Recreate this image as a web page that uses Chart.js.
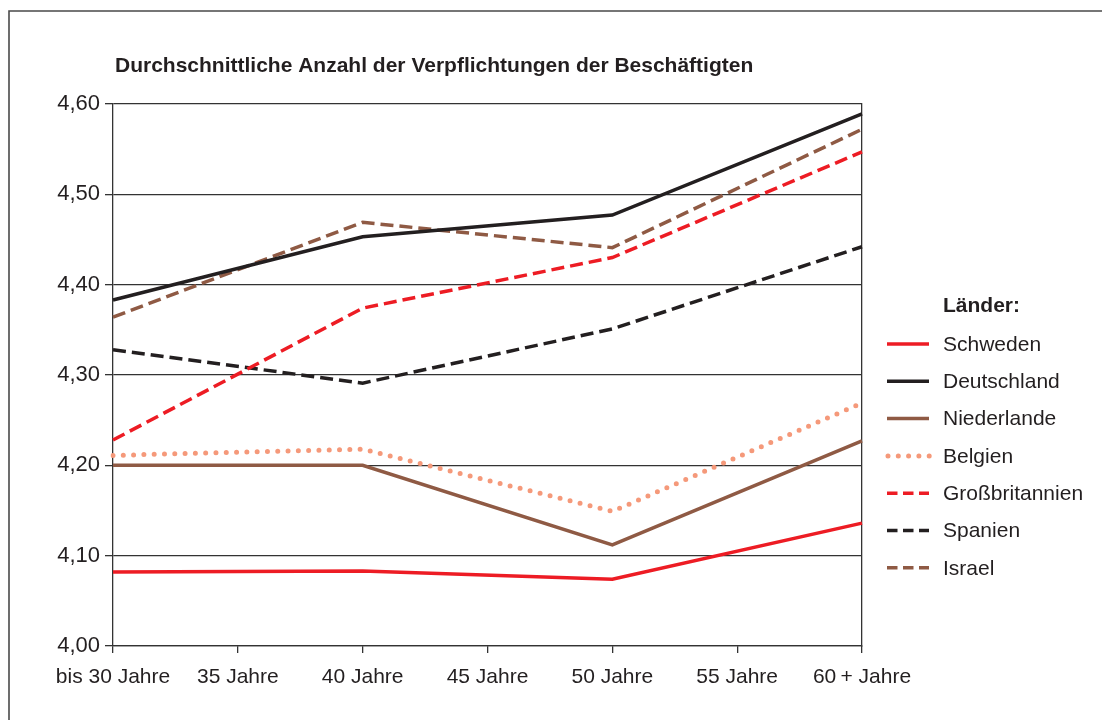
<!DOCTYPE html>
<html lang="de">
<head>
<meta charset="utf-8">
<script src="https://cdn.jsdelivr.net/npm/chart.js@4.4.1/dist/chart.umd.min.js"></script>
<style>
  html, body { margin: 0; padding: 0; background: #fff; }
  canvas { display: block; }
</style>
</head>
<body>
<canvas id="c" width="1102" height="720"></canvas>
<script>
// Texts
const chartTitle = 'Durchschnittliche Anzahl der Verpflichtungen der Beschäftigten';
const legendTitle = 'Länder:';

// Age groups on the x axis (values only at 30, 40, 50 and 60+)
const ageGroups = ['bis 30 Jahre', '35 Jahre', '40 Jahre', '45 Jahre', '50 Jahre', '55 Jahre', '60\u2009+ Jahre'];

// Average number of commitments per country
const schweden        = [4.082, null, 4.083, null, 4.074, null, 4.136];
const deutschland     = [4.383, null, 4.453, null, 4.477, null, 4.589];
const niederlande     = [4.200, null, 4.200, null, 4.112, null, 4.227];
const belgien         = [4.211, null, 4.218, null, 4.149, null, 4.269];
const grossbritannien = [4.228, null, 4.374, null, 4.430, null, 4.547];
const spanien         = [4.328, null, 4.291, null, 4.351, null, 4.442];
const israel          = [4.364, null, 4.469, null, 4.441, null, 4.572];

// Value axis labels
const yTickLabels = ['4,00', '4,10', '4,20', '4,30', '4,40', '4,50', '4,60'];

const FONT = '"Liberation Sans", Arial, Helvetica, sans-serif';
const INK = '#231f20';
const RED = '#ed1c24';
const BROWN = '#8f5a44';
const SALMON = '#f5997a';

const solid = { borderDash: [], borderCapStyle: 'butt', borderWidth: 3.5 };
const dashed = { borderDash: [13, 6], borderCapStyle: 'butt', borderWidth: 3.5 };
const dotted = { borderDash: [0, 10.3], borderCapStyle: 'round', borderWidth: 5 };

function series(label, data, color, style) {
  return Object.assign({
    label, data,
    borderColor: color, backgroundColor: color,
    pointRadius: 0, pointHoverRadius: 0,
    tension: 0, spanGaps: true, fill: false,
    borderJoinStyle: 'miter'
  }, style);
}

// Outer frame and chart heading
const framePlugin = {
  id: 'frame',
  beforeDraw(chart) {
    const ctx = chart.ctx;
    ctx.save();
    ctx.fillStyle = '#fff';
    ctx.fillRect(0, 0, chart.width, chart.height);
    ctx.strokeStyle = '#4a4a4a';
    ctx.lineWidth = 1.6;
    ctx.beginPath();
    ctx.moveTo(9, chart.height);
    ctx.lineTo(9, 11);
    ctx.lineTo(chart.width, 11);
    ctx.stroke();
    ctx.restore();
  },
  afterDraw(chart) {
    const ctx = chart.ctx;
    ctx.save();
    ctx.fillStyle = INK;
    ctx.font = 'bold 21px ' + FONT;
    ctx.textBaseline = 'alphabetic';
    ctx.textAlign = 'left';
    ctx.fillText(chartTitle, 115, 72);
    ctx.restore();
  }
};

// Legend at the right of the plot, built from the datasets' own styles
const sideLegend = {
  id: 'sideLegend',
  afterDraw(chart) {
    const ctx = chart.ctx;
    const x0 = 887, x1 = 929, tx = 943;
    ctx.save();
    ctx.fillStyle = INK;
    ctx.font = 'bold 21px ' + FONT;
    ctx.textBaseline = 'middle';
    ctx.fillText(legendTitle, tx, 306);
    ctx.font = '21px ' + FONT;
    chart.data.datasets.forEach((ds, i) => {
      const y = 344 + i * 37.3;
      ctx.save();
      ctx.strokeStyle = ds.borderColor;
      ctx.lineWidth = ds.borderWidth;
      ctx.lineCap = ds.borderCapStyle;
      if (ds.borderCapStyle === 'round') {
        ctx.setLineDash(ds.borderDash);
        ctx.beginPath();
        ctx.moveTo(x0 + 1, y);
        ctx.lineTo(x1 + 2, y);
        ctx.stroke();
      } else {
        ctx.setLineDash(ds.borderDash.length ? [10.5, 5.5] : []);
        ctx.beginPath();
        ctx.moveTo(x0, y);
        ctx.lineTo(x1, y);
        ctx.stroke();
      }
      ctx.restore();
      ctx.fillStyle = INK;
      ctx.fillText(ds.label, tx, y + 1);
    });
    ctx.restore();
  }
};

new Chart(document.getElementById('c'), {
  type: 'line',
  data: {
    labels: ageGroups,
    datasets: [
      series('Schweden', schweden, RED, solid),
      series('Deutschland', deutschland, INK, solid),
      series('Niederlande', niederlande, BROWN, solid),
      series('Belgien', belgien, SALMON, dotted),
      series('Großbritannien', grossbritannien, RED, dashed),
      series('Spanien', spanien, INK, dashed),
      series('Israel', israel, BROWN, dashed)
    ]
  },
  options: {
    responsive: false,
    animation: false,
    events: [],
    layout: { padding: { top: 104, left: 0, right: 240, bottom: 0 } },
    plugins: {
      legend: { display: false },
      title: { display: false },
      tooltip: { enabled: false }
    },
    scales: {
      x: {
        type: 'category',
        offset: false,
        afterFit(scale) { scale.height = 74; },
        grid: { drawOnChartArea: false, drawTicks: true, tickLength: 7, color: '#333', lineWidth: 1.3 },
        border: { display: true, color: '#333', width: 1.3 },
        ticks: { color: INK, font: { family: FONT, size: 21 }, padding: 12, maxRotation: 0, autoSkip: false }
      },
      y: {
        min: 4.0, max: 4.6,
        afterFit(scale) { scale.width = 113; },
        afterBuildTicks(scale) {
          scale.ticks = yTickLabels.map((t, i) => ({ value: 4.0 + i * 0.1 }));
        },
        grid: { drawOnChartArea: true, drawTicks: true, tickLength: 8, color: '#333', lineWidth: 1.3 },
        border: { display: true, color: '#333', width: 1.3 },
        ticks: {
          color: INK, font: { family: FONT, size: 22 }, padding: 5,
          callback: (v, i) => yTickLabels[i]
        }
      },
      yRight: {
        position: 'right',
        min: 4.0, max: 4.6,
        afterFit(scale) { scale.width = 0; },
        grid: { display: false, drawTicks: false },
        border: { display: true, color: '#333', width: 1.3 },
        ticks: { display: false }
      }
    }
  },
  plugins: [framePlugin, sideLegend]
});
</script>
</body>
</html>
